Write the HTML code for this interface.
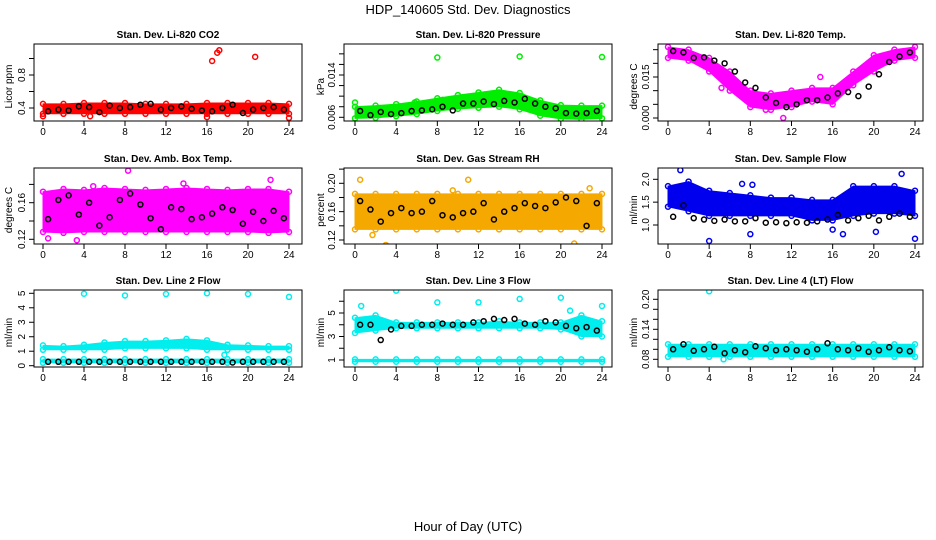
<!DOCTYPE html>
<html><head><meta charset="utf-8">
<style>
html,body{margin:0;padding:0;background:#fff;}
svg{display:block;font-family:"Liberation Sans",sans-serif;}
</style></head>
<body>
<svg id="chart" width="936" height="540" xmlns="http://www.w3.org/2000/svg">
<text x="468" y="14" text-anchor="middle" font-size="13">HDP_140605  Std. Dev. Diagnostics</text>
<text x="468" y="531" text-anchor="middle" font-size="13">Hour of Day (UTC)</text>
</svg>
<script>
// shared hour grids
const bandHours = [0,2,4,6,8,10,12,14,16,18,20,22,24];
const blackHours = [0.5,1.5,2.5,3.5,4.5,5.5,6.5,7.5,8.5,9.5,10.5,11.5,12.5,13.5,14.5,15.5,16.5,17.5,18.5,19.5,20.5,21.5,22.5,23.5];
const xTicks = [0,4,8,12,16,20,24];

// Panel 1: CO2
const co2Lo = [.33,.33,.33,.33,.33,.33,.33,.33,.33,.33,.33,.33,.33];
const co2Hi = [.45,.45,.46,.46,.46,.45,.45,.45,.46,.46,.46,.46,.45];
const co2Black = [.36,.38,.37,.42,.41,.35,.43,.40,.41,.44,.45,.38,.40,.42,.39,.37,.36,.40,.44,.34,.38,.40,.41,.38];
const co2OutX = [16.5,17,17.2,20.7,0,24,16,4.6];
const co2OutY = [.97,1.07,1.1,1.02,.30,.28,.29,.30];
// Panel 2: Pressure
const presLo = [.0058,.0059,.0062,.0066,.0072,.0076,.0078,.0080,.0075,.0063,.0057,.0056,.0058];
const presHi = [.0080,.0082,.0085,.0090,.0096,.0102,.0107,.0112,.0106,.0092,.0083,.0082,.0082];
const presBlack = [.0072,.0064,.0070,.0066,.0068,.0072,.0073,.0075,.0080,.0073,.0086,.0086,.0090,.0085,.0091,.0088,.0095,.0086,.0080,.0077,.0068,.0067,.0068,.0072];
const presOutX = [8,16,24,0,16.2,8.5,5.8];
const presOutY = [.0173,.0175,.0174,.0088,.0100,.0093,.0088];
// Panel 3: Temp
const tempLo = [.022,.021,.017,.010,.004,.003,.004,.006,.005,.012,.017,.021,.022];
const tempHi = [.026,.025,.022,.017,.010,.009,.010,.011,.011,.017,.023,.025,.026];
const tempBlack = [.0245,.024,.022,.0222,.021,.020,.017,.013,.011,.0075,.0055,.004,.005,.0065,.0065,.0075,.009,.0095,.008,.0115,.016,.0205,.0225,.024];
const tempOutX = [5.2,11.2,9.5,14.8];
const tempOutY = [.011,.0,.003,.015];
// Panel 4: Amb box temp
const ambLo = [.128,.127,.128,.128,.128,.128,.128,.128,.128,.128,.128,.127,.128];
const ambHi = [.172,.175,.174,.176,.175,.174,.175,.176,.175,.174,.175,.175,.172];
const ambBlack = [.142,.163,.168,.147,.160,.135,.144,.163,.170,.158,.143,.131,.155,.153,.142,.144,.148,.155,.152,.137,.150,.140,.151,.143];
const ambOutX = [8.3,22.2,3.3,0.5,4.9,13.7];
const ambOutY = [.195,.185,.119,.121,.178,.181];
// Panel 5: RH
const rhLo = [.135,.135,.135,.135,.135,.135,.135,.135,.135,.135,.135,.135,.135];
const rhHi = [.185,.185,.185,.185,.185,.185,.185,.185,.185,.185,.185,.185,.185];
const rhBlack = [.175,.163,.146,.158,.165,.158,.160,.175,.155,.152,.158,.160,.172,.149,.160,.165,.172,.168,.165,.173,.180,.175,.140,.172];
const rhOutX = [0.5,11,3,21.3,1.7,9.5,22.8];
const rhOutY = [.205,.205,.113,.115,.127,.190,.193];
// Panel 6: Sample flow
const sfLo = [1.4,1.3,1.2,1.2,1.2,1.2,1.2,1.1,1.1,1.2,1.25,1.25,1.2];
const sfHi = [1.85,1.95,1.75,1.7,1.65,1.6,1.6,1.55,1.55,1.85,1.85,1.85,1.75];
const sfBlack = [1.18,1.43,1.15,1.12,1.09,1.12,1.08,1.08,1.15,1.05,1.06,1.04,1.06,1.05,1.08,1.12,1.22,1.10,1.15,1.20,1.10,1.18,1.25,1.18];
const sfOutX = [1.2,4,8,16,17,20.2,22.7,24,7.2,8.2];
const sfOutY = [2.2,0.65,0.8,0.9,0.8,0.85,2.12,0.7,1.9,1.88];
// Panel 7: Line 2
const l2Lo = [1.1,1.1,1.1,1.1,1.2,1.2,1.2,1.2,1.1,1.1,1.1,1.1,1.1];
const l2Hi = [1.4,1.35,1.45,1.6,1.7,1.7,1.75,1.85,1.75,1.45,1.4,1.35,1.35];
const l2Lo2 = [.2,.2,.2,.2,.2,.2,.2,.2,.2,.2,.2,.2,.2];
const l2Hi2 = [.45,.45,.45,.45,.45,.45,.45,.45,.45,.45,.45,.45,.45];
const l2Black = [.27,.27,.27,.27,.27,.27,.27,.27,.27,.27,.27,.27,.27,.27,.27,.27,.27,.27,.22,.27,.27,.27,.27,.27];
const l2OutX = [4,8,12,16,20,24,17.7];
const l2OutY = [4.97,4.85,4.95,5.0,4.95,4.75,0.75];
// Panel 8: Line 3
const l3Lo = [3.3,3.5,3.7,3.7,3.7,3.7,3.7,3.7,3.7,3.7,3.6,3.0,3.0];
const l3Hi = [4.6,4.8,4.2,4.2,4.2,4.2,4.2,4.3,4.2,4.2,4.2,4.8,4.3];
const l3Lo2 = [.85,.85,.85,.85,.85,.85,.85,.85,.85,.85,.85,.85,.85];
const l3Hi2 = [1.05,1.05,1.05,1.05,1.05,1.05,1.05,1.05,1.05,1.05,1.05,1.05,1.05];
const l3Black = [4.0,4.0,2.7,3.6,3.9,3.9,4.0,4.0,4.1,4.0,4.0,4.2,4.3,4.5,4.4,4.5,4.1,4.0,4.3,4.2,3.9,3.7,3.8,3.5];
const l3OutX = [4,8,12,16,20,24,0.6,20.9];
const l3OutY = [6.9,5.9,5.9,6.2,6.3,5.6,5.6,5.2];
// Panel 9: Line 4
const l4Lo = [.085,.085,.085,.085,.085,.085,.085,.085,.085,.085,.085,.085,.085];
const l4Hi = [.11,.11,.11,.11,.11,.11,.11,.11,.11,.11,.11,.11,.11];
const l4Black = [.100,.110,.097,.100,.105,.092,.098,.094,.106,.102,.098,.100,.098,.095,.100,.112,.100,.098,.102,.095,.098,.104,.098,.096];
const l4OutX = [4,12,20,5.4];
const l4OutY = [.216,.225,.225,.080];

const NS = "http://www.w3.org/2000/svg";
const svg = document.getElementById('chart');
const cols = [{l:34,r:302,x0:43,x24:289,yl:8},{l:344,r:612,x0:355,x24:602,yl:320},{l:658,r:923,x0:668,x24:915,yl:633}];
const rows = [{t:44,b:121},{t:168,b:244},{t:290,b:367}];

function el(tag, attrs, parent){
  const e = document.createElementNS(NS, tag);
  for (const k in attrs) e.setAttribute(k, attrs[k]);
  (parent||svg).appendChild(e);
  return e;
}

function panel(ci, ri, title, ylab, yv0, yp0, yv1, yp1, yTicks, yLabels, color, bands, black, outX, outY, slug){
  const c = cols[ci], r = rows[ri];
  const g = el('g', {});
  
  
  const X = h => c.x0 + h*(c.x24-c.x0)/24;
  const Y = v => yp0 + (v-yv0)*(yp1-yp0)/(yv1-yv0);
  const clipId = 'clip-' + slug;
  const cp = el('clipPath', {id:clipId}, g);
  el('rect', {x:c.l, y:r.t, width:c.r-c.l, height:r.b-r.t}, cp);
  const pg = el('g', {'clip-path':'url(#'+clipId+')'}, g);
  bands.forEach(b => {
    let pts = [];
    bandHours.forEach((h,i)=>pts.push(X(h)+','+Y(b[1][i])));
    for (let i=bandHours.length-1;i>=0;i--) pts.push(X(bandHours[i])+','+Y(b[0][i]));
    const poly = el('polygon', {points:pts.join(' '), fill:color, stroke:color, 'stroke-width':1, 'stroke-linejoin':'round'}, pg);
    
    
    bandHours.forEach((h,i)=>{
      [b[0][i], b[1][i]].forEach(v=>{
        const cc = el('circle', {cx:X(h), cy:Y(v), r:2.5, fill:'none', stroke:color, 'stroke-width':1.5}, pg);
        
        
      });
    });
  });
  outX.forEach((x,i)=>{
    const cc = el('circle', {cx:X(x), cy:Y(outY[i]), r:2.5, fill:'none', stroke:color, 'stroke-width':1.5}, pg);
    
    
  });
  blackHours.forEach((h,i)=>{
    const cc = el('circle', {cx:X(h), cy:Y(black[i]), r:2.5, fill:'none', stroke:'#000', 'stroke-width':1.5}, pg);
    
    
  });
  const box = el('rect', {x:c.l, y:r.t, width:c.r-c.l, height:r.b-r.t, fill:'none', stroke:'#000', 'stroke-width':1}, g);
  
  
  const t = el('text', {x:(c.l+c.r)/2, y:r.t-6, 'text-anchor':'middle', 'font-size':10, 'font-weight':'bold'}, g);
  t.textContent = title;
  
  
  const yt = el('text', {x:c.yl, y:(r.t+r.b)/2, 'text-anchor':'middle', 'font-size':10, transform:'rotate(-90 '+(c.yl+4)+' '+((r.t+r.b)/2)+')'}, g);
  yt.textContent = ylab;
  
  
  xTicks.forEach(h=>{
    el('line', {x1:X(h), x2:X(h), y1:r.b, y2:r.b+5, stroke:'#000'}, g);
    const tx = el('text', {x:X(h), y:r.b+14, 'text-anchor':'middle', 'font-size':10}, g);
    tx.textContent = h;
    
    
  });
  yTicks.forEach(v=>{
    el('line', {x1:c.l-5, x2:c.l, y1:Y(v), y2:Y(v), stroke:'#000'}, g);
  });
  yLabels.forEach(s=>{
    const v = parseFloat(s);
    const lx = c.l-9;
    const ty = el('text', {x:lx, y:Y(v), 'text-anchor':'middle', 'font-size':10, transform:'rotate(-90 '+lx+' '+Y(v)+')'}, g);
    ty.textContent = s;
    
    
  });
}

panel(0,0,'Stan. Dev. Li-820 CO2','Licor ppm',0.4,108,0.8,75,[.4,.6,.8,1.0],['0.4','0.8'],'#ff0000',[[co2Lo,co2Hi]],co2Black,co2OutX,co2OutY,'co2');
panel(1,0,'Stan. Dev. Li-820 Pressure','kPa',0.006,117.3,0.014,75,[.006,.008,.010,.012,.014,.016,.018],['0.006','0.014'],'#00ee00',[[presLo,presHi]],presBlack,presOutX,presOutY,'pressure');
panel(2,0,'Stan. Dev. Li-820 Temp.','degrees C',0,118,0.015,77,[0,.005,.01,.015,.02,.025],['0.000','0.015'],'#ff00ff',[[tempLo,tempHi]],tempBlack,tempOutX,tempOutY,'temp');
panel(0,1,'Stan. Dev. Amb. Box Temp.','degrees C',0.12,239.3,0.16,202.7,[.12,.14,.16,.18],['0.12','0.16'],'#ff00ff',[[ambLo,ambHi]],ambBlack,ambOutX,ambOutY,'amb-temp');
panel(1,1,'Stan. Dev. Gas Stream RH','percent',0.12,240,0.20,183.3,[.12,.14,.16,.18,.20,.22],['0.12','0.16','0.20'],'#f5a800',[[rhLo,rhHi]],rhBlack,rhOutX,rhOutY,'rh');
panel(2,1,'Stan. Dev. Sample Flow','ml/min',1.0,225,2.0,179.3,[1.0,1.5,2.0],['1.0','1.5','2.0'],'#0000ee',[[sfLo,sfHi]],sfBlack,sfOutX,sfOutY,'sample-flow');
panel(0,2,'Stan. Dev. Line 2 Flow','ml/min',0,365.7,5,293.3,[0,1,2,3,4,5],['0','1','2','3','4','5'],'#00eeee',[[l2Lo,l2Hi],[l2Lo2,l2Hi2]],l2Black,l2OutX,l2OutY,'line2');
panel(1,2,'Stan. Dev. Line 3 Flow','ml/min',1,360,5,313,[1,2,3,4,5,6],['1','3','5'],'#00eeee',[[l3Lo,l3Hi],[l3Lo2,l3Hi2]],l3Black,l3OutX,l3OutY,'line3');
panel(2,2,'Stan. Dev. Line 4 (LT) Flow','ml/min',0.08,359.3,0.20,299.3,[.08,.10,.12,.14,.16,.18,.20],['0.08','0.14','0.20'],'#00eeee',[[l4Lo,l4Hi]],l4Black,l4OutX,l4OutY,'line4');
</script>
</body></html>
